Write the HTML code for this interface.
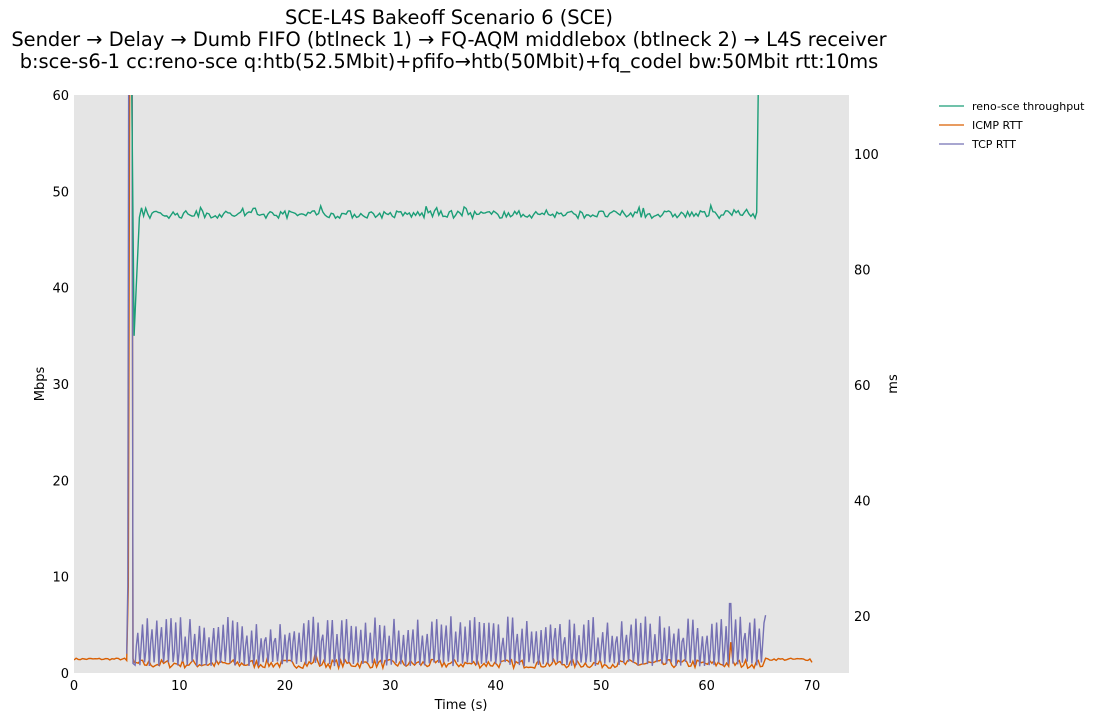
<!DOCTYPE html>
<html><head><meta charset="utf-8"><style>
body{margin:0;background:#fff;width:1105px;height:721px;overflow:hidden;font-family:"Liberation Sans",sans-serif}
svg text{font-family:"DejaVu Sans","Liberation Sans",sans-serif}
</style></head><body>
<svg id="s" width="1105" height="721" xmlns="http://www.w3.org/2000/svg">
<text x="449" y="24" font-size="19.4" text-anchor="middle">SCE-L4S Bakeoff Scenario 6 (SCE)</text>
<text x="449" y="46" font-size="19.4" text-anchor="middle">Sender → Delay → Dumb FIFO (btlneck 1) → FQ-AQM middlebox (btlneck 2) → L4S receiver</text>
<text x="449" y="68" font-size="19.4" text-anchor="middle">b:sce-s6-1 cc:reno-sce q:htb(52.5Mbit)+pfifo→htb(50Mbit)+fq_codel bw:50Mbit rtt:10ms</text>
<rect x="74" y="95" width="775" height="578" fill="#e5e5e5"/>
<g font-size="13" text-anchor="middle">
<text x="74" y="690">0</text><text x="179.4" y="690">10</text><text x="284.9" y="690">20</text><text x="390.3" y="690">30</text><text x="495.7" y="690">40</text><text x="601.1" y="690">50</text><text x="706.6" y="690">60</text><text x="812" y="690">70</text>
<text x="461" y="709">Time (s)</text>
</g>
<g font-size="13" text-anchor="end">
<text x="69" y="678">0</text><text x="69" y="581.7">10</text><text x="69" y="485.3">20</text><text x="69" y="389">30</text><text x="69" y="292.7">40</text><text x="69" y="196.3">50</text><text x="69" y="100">60</text>
</g>
<g font-size="13">
<text x="854" y="621">20</text><text x="854" y="505.5">40</text><text x="854" y="390">60</text><text x="854" y="274.5">80</text><text x="854" y="159">100</text>
</g>
<text transform="translate(44,384) rotate(-90)" font-size="13" text-anchor="middle">Mbps</text>
<text transform="translate(897,384) rotate(-90)" font-size="13" text-anchor="middle">ms</text>
<g font-size="11">
<line x1="939" y1="106" x2="964" y2="106" stroke="#1b9e77" stroke-width="1.3"/><text x="972" y="110">reno-sce throughput</text>
<line x1="939" y1="125" x2="964" y2="125" stroke="#d95f02" stroke-width="1.3"/><text x="972" y="129">ICMP RTT</text>
<line x1="939" y1="144" x2="964" y2="144" stroke="#7570b3" stroke-width="1.3"/><text x="972" y="148">TCP RTT</text>
</g>
<defs><clipPath id="c"><rect x="74" y="95" width="775" height="578"/></clipPath></defs>
<g clip-path="url(#c)" fill="none" stroke-width="1.4" id="g"></g>
</svg>
<script>
var seed=7;function r(){seed=(seed*16807)%2147483647;return seed/2147483647;}
function X(t){return 74+t*10.543;}function Y(v){return 673-v*9.633;}
function P(a,c){var p=document.createElementNS("http://www.w3.org/2000/svg","polyline");p.setAttribute("points",a.map(function(q){return X(q[0]).toFixed(1)+","+Y(q[1]).toFixed(1)}).join(" "));p.setAttribute("stroke",c);document.getElementById("g").appendChild(p);}
var o=[],t;
for(t=0;t<5;t+=0.2)o.push([t,1.35+r()*0.2]);
o.push([5.0,1.3],[5.15,9],[5.3,70],[5.5,70],[5.6,1.5]);
for(t=5.7;t<65.5;t+=0.2)o.push([t,0.5+r()*0.9]);
for(var i=0;i<o.length;i++){if(Math.abs(o[i][0]-62.3)<0.1)o[i][1]=3.2;if(Math.abs(o[i][0]-22.9)<0.1)o[i][1]=2.1;}
for(t=65.6;t<70;t+=0.2)o.push([t,1.3+r()*0.25]);o.push([70,1.1]);
var p=[[5.0,2],[5.1,9],[5.2,70],[5.5,70],[5.6,1]];
for(t=5.8;t<65.4;t+=0.45){p.push([t,0.7+r()*0.5]);p.push([t+0.12,2+r()*1.5]);p.push([t+0.25,3.6+r()*2.3]);}
for(i=0;i<p.length;i++){if(Math.abs(p[i][0]-62.3)<0.15)p[i][1]=7.2;}
p.push([65.6,6]);
var g=[[5.4,70],[5.7,35],[5.9,40],[6.2,47.3]];
for(t=6.4;t<64.7;t+=0.2)g.push([t,47.2+r()*0.8+(r()<0.05?0.6:0)]);
g.push([64.75,47.8],[64.9,60],[65,70]);
P(o,"#d95f02");P(p,"#7570b3");P(g,"#1b9e77");
</script>
</body></html>
